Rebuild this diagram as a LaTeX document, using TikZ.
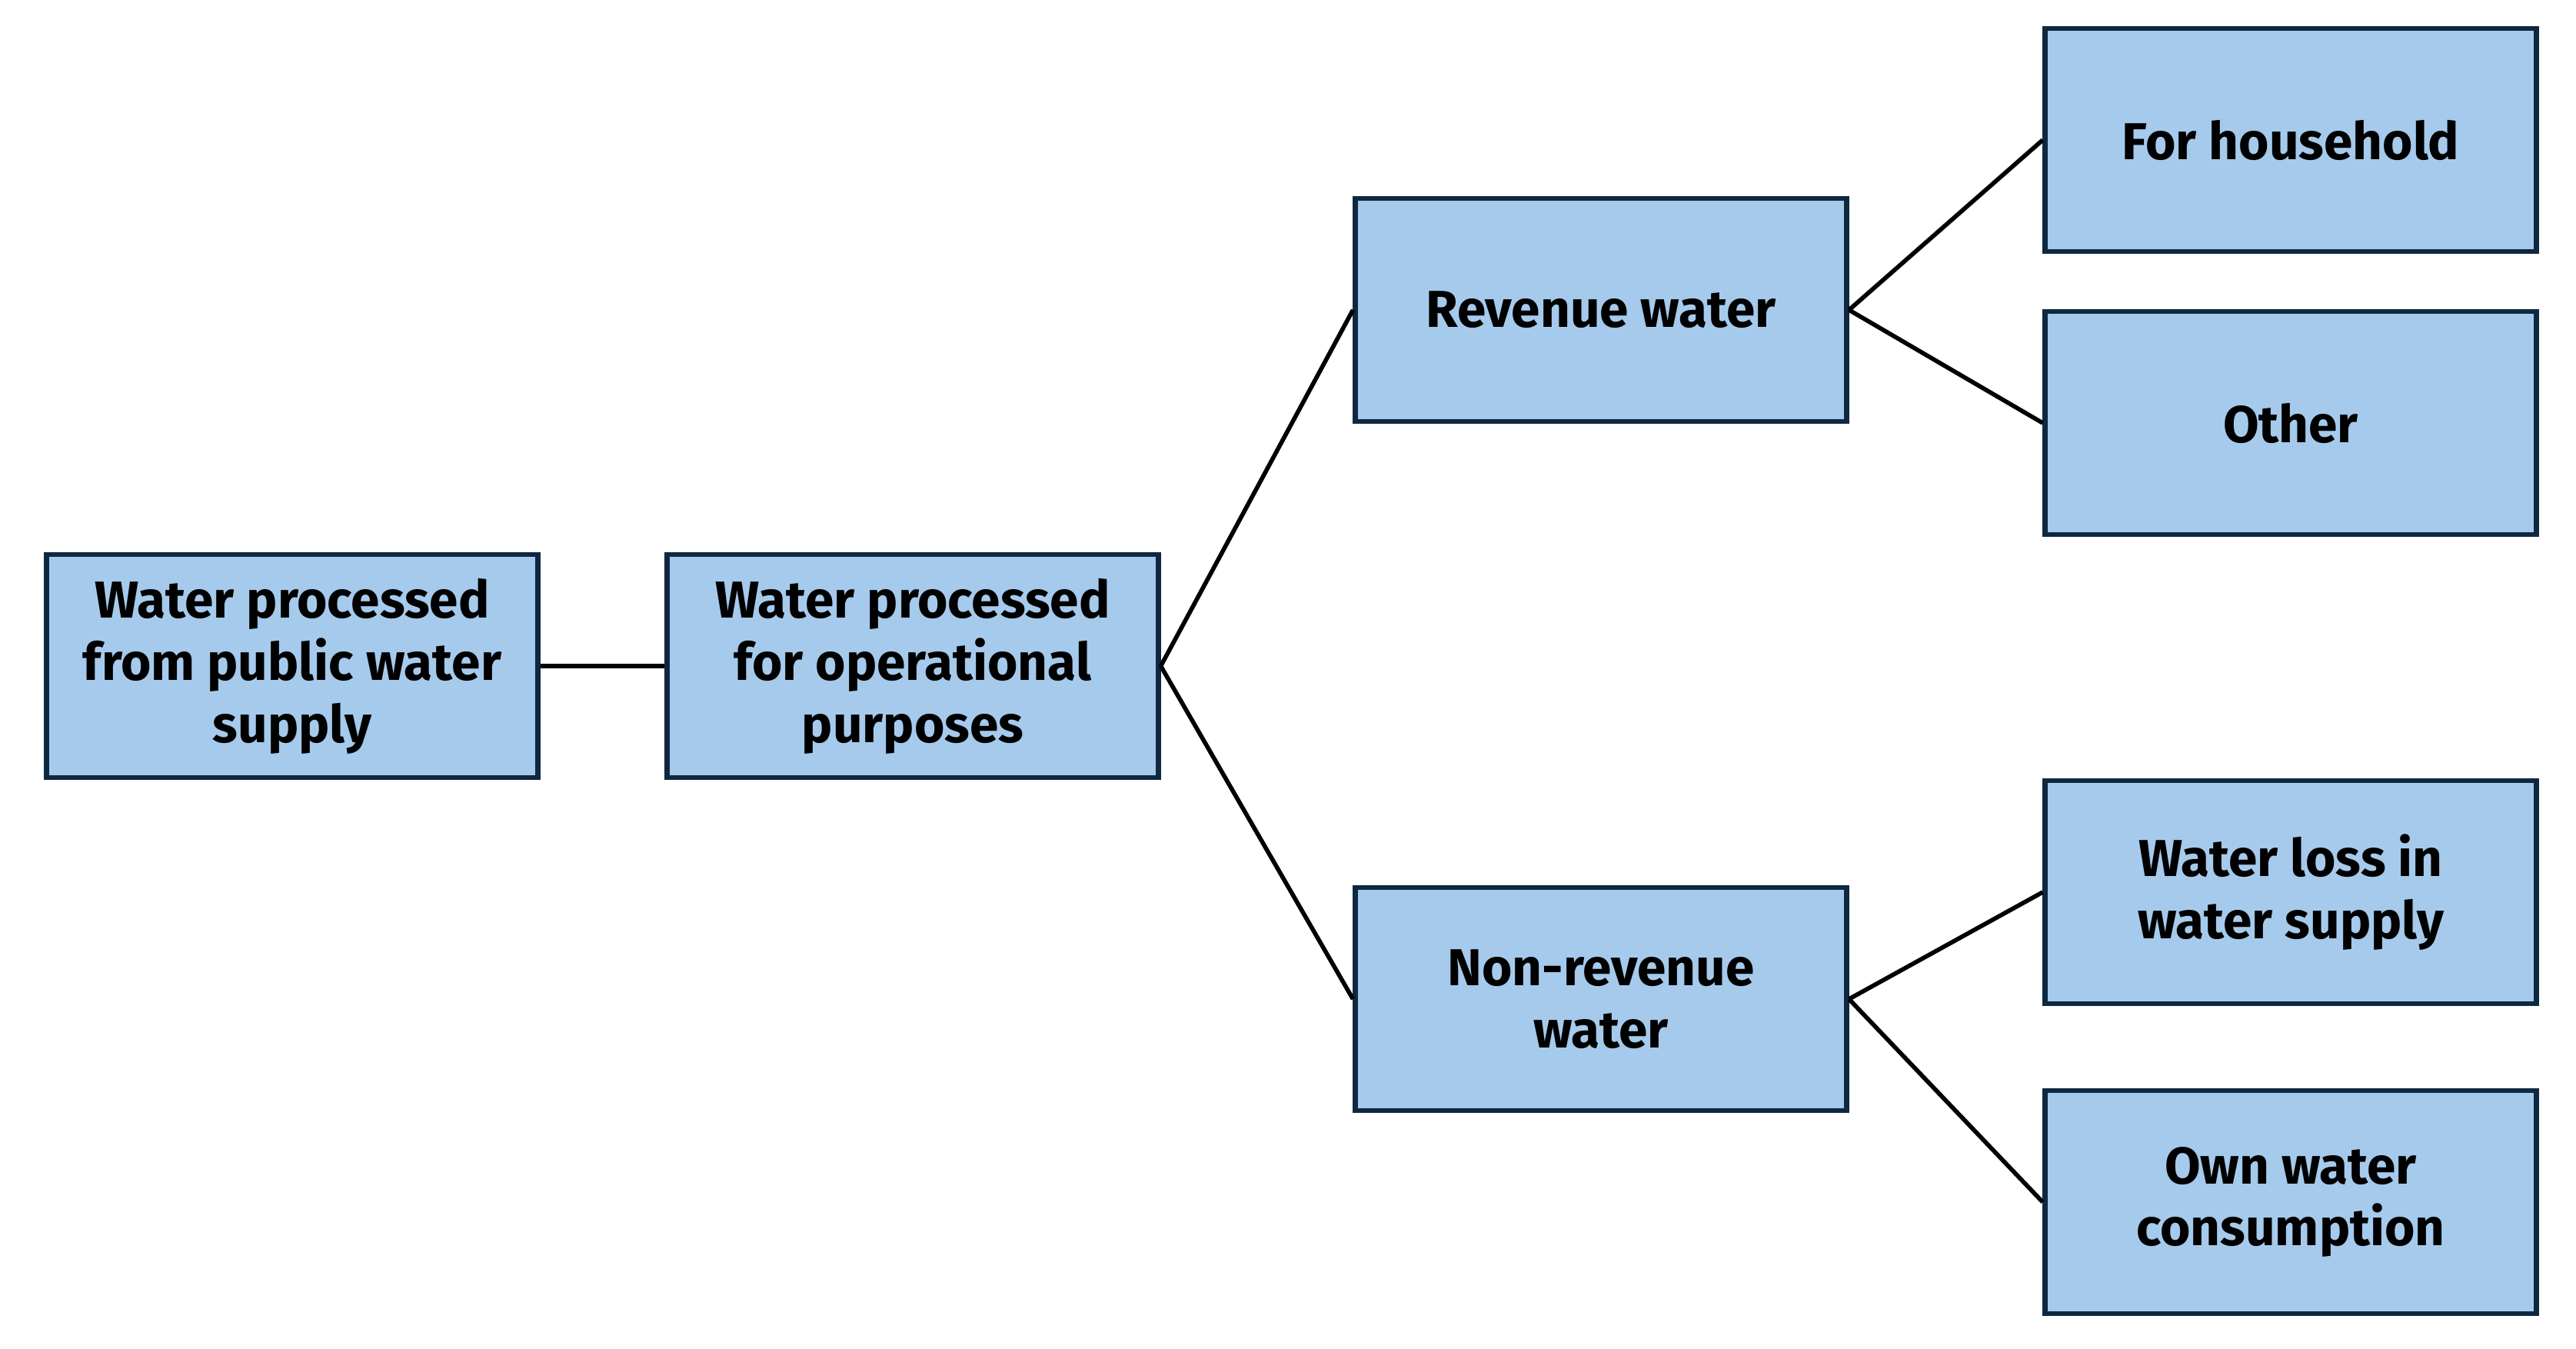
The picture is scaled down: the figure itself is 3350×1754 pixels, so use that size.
\documentclass[tikz,border=0pt]{standalone}
\usepackage{fontspec}
\setmainfont{Fira Sans}
\definecolor{boxfill}{HTML}{A6CAEC}
\definecolor{boxline}{HTML}{0E2841}
\begin{document}
\begin{tikzpicture}[x=0.01cm,y=-0.01cm,
  box/.style={draw=boxline,fill=boxfill,line width=1.9pt,minimum width=6.38cm,minimum height=2.9cm,
    align=center,inner sep=0pt,font=\fontsize{19.2}{23}\selectfont\bfseries},
  link/.style={draw=black,line width=1.6pt}]
\useasboundingbox (0,0) rectangle (3350,1754);
\node[box] (A) at (380,866) {Water processed\\from public water\\supply};
\node[box] (B) at (1187,866) {Water processed\\for operational\\purposes};
\node[box] (C) at (2082,403) {Revenue water};
\node[box] (D) at (2082,1299) {Non-revenue\\water};
\node[box] (E) at (2979,182) {For household};
\node[box] (F) at (2979,550) {Other};
\node[box] (G) at (2979,1160) {Water loss in\\water supply};
\node[box] (H) at (2979,1563) {Own water\\consumption};
\draw[link] (A.east) -- (B.west);
\draw[link] (B.east) -- (C.west);
\draw[link] (B.east) -- (D.west);
\draw[link] (C.east) -- (E.west);
\draw[link] (C.east) -- (F.west);
\draw[link] (D.east) -- (G.west);
\draw[link] (D.east) -- (H.west);
\end{tikzpicture}
\end{document}
